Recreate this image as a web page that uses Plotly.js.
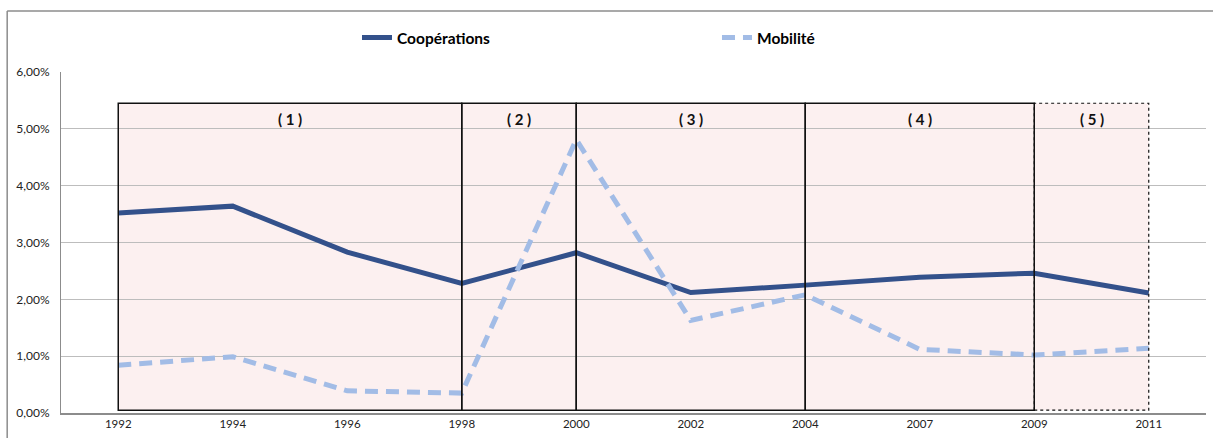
<!DOCTYPE html>
<html>
<head>
<meta charset="utf-8">
<script src="https://cdn.plot.ly/plotly-3.0.1.min.js"></script>
<style>html,body{margin:0;padding:0;background:#fff;}#chart{width:1213px;height:438px;}</style>
</head>
<body>
<div id="chart"></div>
<script>
const categories = ['1992','1994','1996','1998','2000','2002','2004','2007','2009','2011'];
const cooperations = [0.0352,0.0364,0.0283,0.0228,0.0282,0.0212,0.0225,0.0239,0.0246,0.0211];
const mobilite = [0.0084,0.0099,0.0039,0.0035,0.0481,0.0163,0.0208,0.0112,0.0102,0.0114];
const periodLabels = ['( 1 )','( 2 )','( 3 )','( 4 )','( 5 )'];
const periodStarts = ['1992','1998','2000','2004','2009'];
const periodEnds = ['1998','2000','2004','2009','2011'];
const periodDashed = [false,false,false,false,true];

const boxTop = 0.0545, boxBottom = 0.0005;
const idx = c => categories.indexOf(c);

const shapes = [];
const annotations = [];
periodLabels.forEach((lab, i) => {
  const x0 = idx(periodStarts[i]), x1 = idx(periodEnds[i]);
  shapes.push({type:'rect', xref:'x', yref:'y', x0:x0, x1:x1, y0:boxBottom, y1:boxTop,
    fillcolor:'#fcf0f0', line:{width:0}, layer:'below'});
});
periodLabels.forEach((lab, i) => {
  const x0 = idx(periodStarts[i]), x1 = idx(periodEnds[i]);
  shapes.push({type:'rect', xref:'x', yref:'y', x0:x0, x1:x1, y0:boxBottom, y1:boxTop,
    fillcolor:'rgba(0,0,0,0)', line:{color:'#111', width:periodDashed[i]?1.2:1.5, dash:periodDashed[i]?'3px,3px':'solid'}, layer:'above'});
  annotations.push({x:(x0+x1)/2, y:boxTop, xref:'x', yref:'y', yanchor:'top', yshift:-5,
    text:'<b>'+lab+'</b>', showarrow:false, font:{family:'Lato, sans-serif', size:15, color:'#111'}});
});
// outer chart border
shapes.push({type:'line', xref:'paper', yref:'paper', x0:-0.047, x1:1.02, y0:1.179, y1:1.179, line:{color:'#8c8c8c', width:1.5}});
shapes.push({type:'line', xref:'paper', yref:'paper', x0:-0.047, x1:-0.047, y0:1.179, y1:-0.1, line:{color:'#8c8c8c', width:1.5}});

const traces = [
  {x:categories, y:cooperations, type:'scatter', mode:'lines', name:'Coopérations',
   line:{color:'#33518b', width:5}},
  {x:categories, y:mobilite, type:'scatter', mode:'lines', name:'Mobilité',
   line:{color:'#a2bce6', width:5, dash:'13px,8px'}}
];

const layout = {
  width:1213, height:438,
  margin:{l:61, r:7, t:72, b:25},
  paper_bgcolor:'#fff', plot_bgcolor:'#fff',
  separators:', ',
  font:{family:'Lato, sans-serif', size:11, color:'#222'},
  xaxis:{type:'category', range:[-0.5, 9.5], showgrid:false, showline:true, linecolor:'#8c8c8c', linewidth:1.5,
    ticks:'', tickfont:{size:11.5, color:'#222'}, zeroline:false},
  yaxis:{range:[0,0.06], dtick:0.01, tickformat:'.2%', showgrid:true, gridcolor:'#bdbdbd', gridwidth:1,
    showline:true, linecolor:'#8c8c8c', linewidth:1, zeroline:false, ticks:'', ticklabelstandoff:8, tickfont:{size:12, color:'#222'}},
  showlegend:true,
  legend:{orientation:'h', x:0.2585, y:1.10, xanchor:'left', yanchor:'middle', entrywidth:315,
    font:{family:'Lato, sans-serif', size:15.5, color:'#000', weight:'bold'}, bgcolor:'rgba(0,0,0,0)', itemwidth:30},
  shapes:shapes,
  annotations:annotations
};
Plotly.newPlot('chart', traces, layout, {displayModeBar:false, staticPlot:true});
</script>
</body>
</html>
